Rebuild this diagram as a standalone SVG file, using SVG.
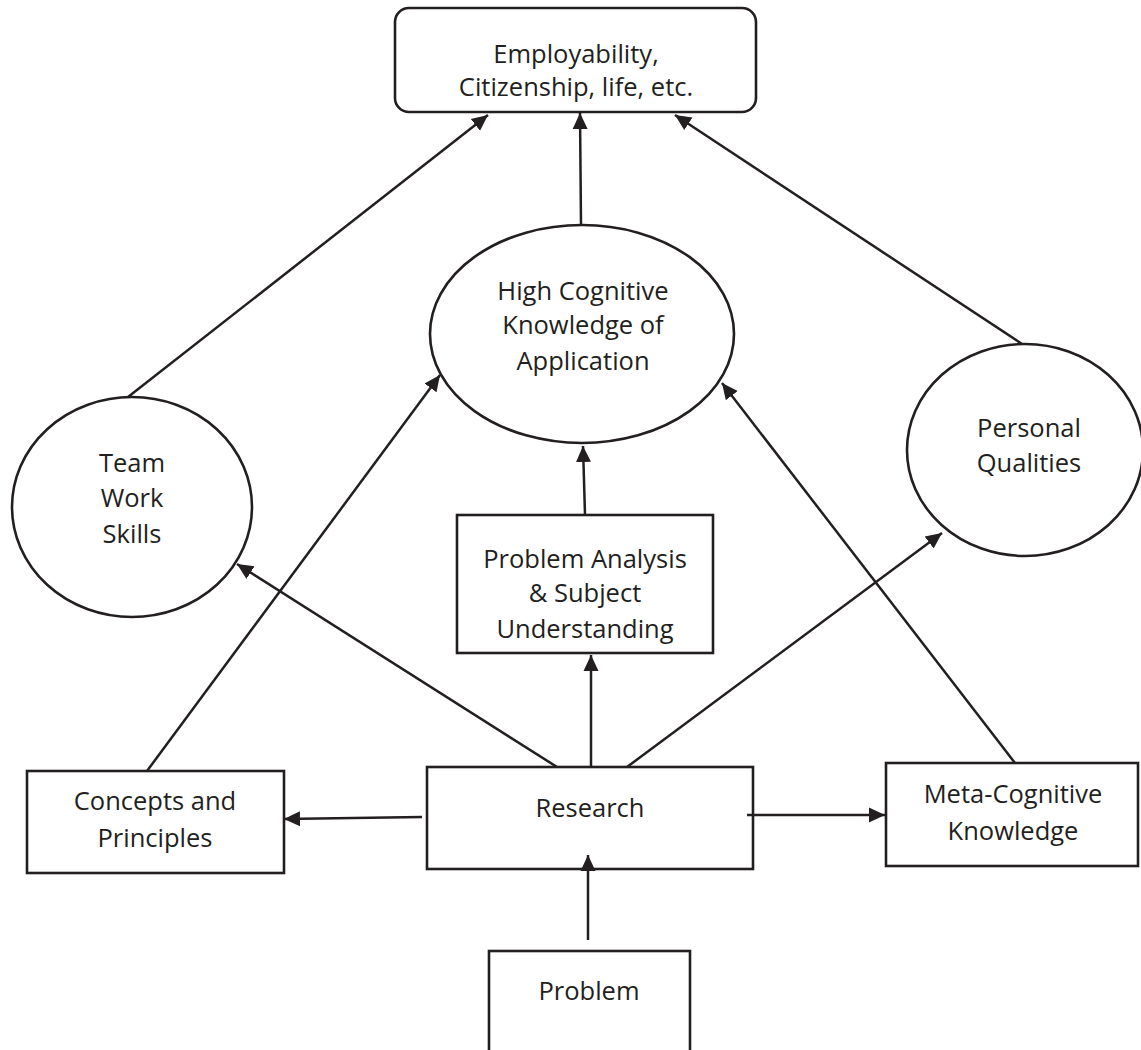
<svg xmlns="http://www.w3.org/2000/svg" width="1141" height="1050" viewBox="0 0 1141 1050">
<style>
.shape{fill:#fff;stroke:#231f20;stroke-width:2.6}
.lbl{font-family:"Open Sans","Noto Sans",sans-serif;font-size:25.5px;fill:#231f20;text-anchor:middle}
.conn line{stroke:#231f20;stroke-width:2.5}
.arr{marker-end:url(#ah)}
</style>
<defs>
<marker id="ah" markerUnits="userSpaceOnUse" markerWidth="17" markerHeight="17" viewBox="0 0 17 17" refX="16" refY="8.5" orient="auto">
<path d="M0,1 L16,8.5 L0,16 z" fill="#231f20"/>
</marker>
</defs>
<rect width="1141" height="1050" fill="#fff"/>

<g id="employability">
<rect class="shape" x="395" y="8" width="361" height="104" rx="14" ry="14"/>
<text class="lbl" x="576" y="63">Employability,</text>
<text class="lbl" x="576" y="96">Citizenship, life, etc.</text>
</g>

<g id="high-cognitive">
<ellipse class="shape" cx="582" cy="334" rx="152" ry="109"/>
<text class="lbl" x="583" y="300">High Cognitive</text>
<text class="lbl" x="583" y="334">Knowledge of</text>
<text class="lbl" x="583" y="370">Application</text>
</g>

<g id="team-work">
<ellipse class="shape" cx="132" cy="507" rx="120" ry="110"/>
<text class="lbl" x="132" y="472">Team</text>
<text class="lbl" x="132" y="507">Work</text>
<text class="lbl" x="132" y="543">Skills</text>
</g>

<g id="personal">
<ellipse class="shape" cx="1025" cy="450" rx="118" ry="106"/>
<text class="lbl" x="1029" y="437">Personal</text>
<text class="lbl" x="1029" y="472">Qualities</text>
</g>

<g id="problem-analysis">
<rect class="shape" x="457" y="515" width="256" height="138"/>
<text class="lbl" x="585" y="568">Problem Analysis</text>
<text class="lbl" x="585" y="602">&amp; Subject</text>
<text class="lbl" x="585" y="638">Understanding</text>
</g>

<g id="research">
<rect class="shape" x="427" y="767" width="326" height="102"/>
<text class="lbl" x="590" y="817">Research</text>
</g>

<g id="concepts">
<rect class="shape" x="27" y="771" width="257" height="102"/>
<text class="lbl" x="155" y="810">Concepts and</text>
<text class="lbl" x="155" y="847">Principles</text>
</g>

<g id="meta-cognitive">
<rect class="shape" x="886" y="763" width="252" height="103"/>
<text class="lbl" x="1013" y="803">Meta-Cognitive</text>
<text class="lbl" x="1013" y="840">Knowledge</text>
</g>

<g id="problem">
<rect class="shape" x="489" y="951" width="201" height="110"/>
<text class="lbl" x="589" y="1000">Problem</text>
</g>

<g id="connectors" class="conn">
<line class="arr" x1="128" y1="397" x2="488" y2="115"/>
<line class="arr" x1="581" y1="225" x2="580" y2="113"/>
<line class="arr" x1="1022" y1="344" x2="675" y2="115"/>
<line class="arr" x1="585" y1="515" x2="583" y2="446"/>
<line class="arr" x1="147" y1="771" x2="440" y2="375"/>
<line class="arr" x1="1015" y1="763" x2="722" y2="383"/>
<line class="arr" x1="557" y1="767" x2="237" y2="564"/>
<line class="arr" x1="591" y1="767" x2="591" y2="655"/>
<line class="arr" x1="627" y1="767" x2="942" y2="533"/>
<line class="arr" x1="422" y1="817" x2="284" y2="819"/>
<line class="arr" x1="747" y1="815" x2="885" y2="815"/>
<line class="arr" x1="588" y1="940" x2="588" y2="855"/>
</g>
</svg>
